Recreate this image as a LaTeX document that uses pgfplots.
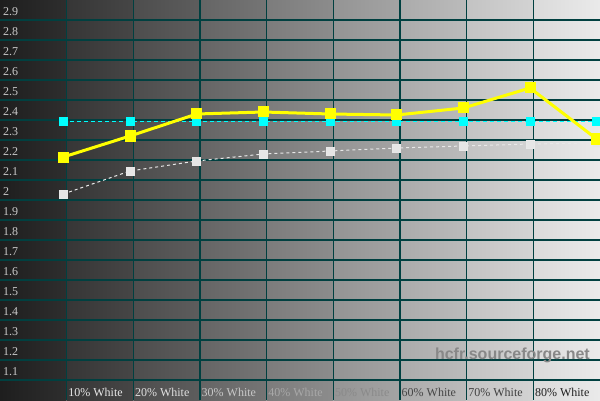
\documentclass[border=0pt]{standalone}
\usepackage{pgfplots}
\pgfplotsset{compat=1.18}
\usepackage{fontspec}
\setmainfont{Liberation Serif}
\newfontfamily\wmfont{Liberation Sans}
\definecolor{gridc}{RGB}{0,64,64}
\definecolor{ylab}{RGB}{200,200,200}
\definecolor{wm}{RGB}{136,136,136}
\definecolor{gline}{RGB}{232,232,232}
\definecolor{gmark}{RGB}{230,230,230}
\definecolor{cyanc}{RGB}{0,255,255}
\definecolor{yelc}{RGB}{255,255,0}
\definecolor{l0}{RGB}{30,30,30}\definecolor{r0}{RGB}{46,46,46}
\definecolor{l1}{RGB}{54,54,54}\definecolor{r1}{RGB}{70,70,70}
\definecolor{l2}{RGB}{77,77,77}\definecolor{r2}{RGB}{93,93,93}
\definecolor{l3}{RGB}{101,101,101}\definecolor{r3}{RGB}{117,117,117}
\definecolor{l4}{RGB}{124,124,124}\definecolor{r4}{RGB}{140,140,140}
\definecolor{l5}{RGB}{148,148,148}\definecolor{r5}{RGB}{164,164,164}
\definecolor{l6}{RGB}{171,171,171}\definecolor{r6}{RGB}{187,187,187}
\definecolor{l7}{RGB}{195,195,195}\definecolor{r7}{RGB}{211,211,211}
\definecolor{l8}{RGB}{218,218,218}\definecolor{r8}{RGB}{234,234,234}
\definecolor{x1}{RGB}{232,232,232}
\definecolor{x2}{RGB}{224,224,224}
\definecolor{x3}{RGB}{200,200,200}
\definecolor{x4}{RGB}{168,168,168}
\definecolor{x5}{RGB}{138,138,138}
\definecolor{x6}{RGB}{70,70,70}
\definecolor{x7}{RGB}{64,64,64}
\definecolor{x8}{RGB}{32,32,32}
\begin{document}
\begin{tikzpicture}
\begin{axis}[name=ax, set layers,
  width=600bp, height=400bp, scale only axis,
  xmin=0.5, xmax=90.5, ymin=0.96, ymax=2.96,
  axis line style={draw=none}, major tick length=0pt,
  tick label style={font=\fontsize{12bp}{14bp}\selectfont},
  xtick={10.5,20.5,30.5,40.5,50.5,60.5,70.5,80.5},
  xticklabels={\textcolor{x1}{10\% White},\textcolor{x2}{20\% White},\textcolor{x3}{30\% White},\textcolor{x4}{40\% White},\textcolor{x5}{50\% White},\textcolor{x6}{60\% White},\textcolor{x7}{70\% White},\textcolor{x8}{80\% White}},
  xticklabel style={anchor=base west, inner sep=0pt, xshift=1.5bp, yshift=3.3bp},
  xmajorgrids=true,
  grid style={draw=gridc, line width=1.1bp},
  ytick={1.1,1.2,1.3,1.4,1.5,1.6,1.7,1.8,1.9,2,2.1,2.2,2.3,2.4,2.5,2.6,2.7,2.8,2.9},
  yticklabels={1.1,1.2,1.3,1.4,1.5,1.6,1.7,1.8,1.9,2,2.1,2.2,2.3,2.4,2.5,2.6,2.7,2.8,2.9},
  yticklabel style={anchor=west, inner sep=0pt, xshift=3bp, text=ylab},
  ymajorgrids=false,
  extra y ticks={1.06,1.16,1.26,1.36,1.46,1.56,1.66,1.76,1.86,1.96,2.06,2.16,2.26,2.36,2.46,2.56,2.66,2.76,2.86},
  extra y tick labels={},
  extra y tick style={grid=major},
]
\begin{pgfonlayer}{axis background}
\fill[left color=l0, right color=r0] (axis cs:0.5,0.96) rectangle (axis cs:10.5,2.96);
\fill[left color=l1, right color=r1] (axis cs:10.5,0.96) rectangle (axis cs:20.5,2.96);
\fill[left color=l2, right color=r2] (axis cs:20.5,0.96) rectangle (axis cs:30.5,2.96);
\fill[left color=l3, right color=r3] (axis cs:30.5,0.96) rectangle (axis cs:40.5,2.96);
\fill[left color=l4, right color=r4] (axis cs:40.5,0.96) rectangle (axis cs:50.5,2.96);
\fill[left color=l5, right color=r5] (axis cs:50.5,0.96) rectangle (axis cs:60.5,2.96);
\fill[left color=l6, right color=r6] (axis cs:60.5,0.96) rectangle (axis cs:70.5,2.96);
\fill[left color=l7, right color=r7] (axis cs:70.5,0.96) rectangle (axis cs:80.5,2.96);
\fill[left color=l8, right color=r8] (axis cs:80.5,0.96) rectangle (axis cs:90.5,2.96);
\end{pgfonlayer}
% reference white gamma (dashed grey)
\addplot[draw=gline, line width=1bp, dash pattern=on 3bp off 3bp,
  mark=square*, mark size=4bp, mark options={solid, fill=gmark, draw=none}]
  coordinates {(10,1.99)(20,2.105)(30,2.155)(40,2.19)(50,2.205)(60,2.22)(70,2.23)(80,2.24)(90,2.245)};
% target gamma (dashed cyan)
\addplot[draw=cyanc, line width=1bp, dash pattern=on 4bp off 3bp,
  mark=square*, mark size=4bp, mark options={solid, fill=cyanc, draw=none}]
  coordinates {(10,2.35)(20,2.35)(30,2.35)(40,2.35)(50,2.35)(60,2.35)(70,2.35)(80,2.35)(90,2.35)};
% measured gamma (yellow)
\addplot[draw=yelc, line width=3bp,
  mark=square*, mark size=4bp, mark options={solid, fill=yelc, draw=none}]
  coordinates {(10,2.175)(20,2.28)(30,2.39)(40,2.40)(50,2.39)(60,2.385)(70,2.42)(80,2.52)(90,2.265)};
\node[anchor=base, text=wm, font={\wmfont\bfseries\fontsize{16bp}{18bp}\selectfont}]
  at (rel axis cs:0.854,0.1025) {hcfr.sourceforge.net};
\end{axis}
\pgfresetboundingbox
\path (ax.south west) rectangle (ax.north east);
\end{tikzpicture}
\end{document}
